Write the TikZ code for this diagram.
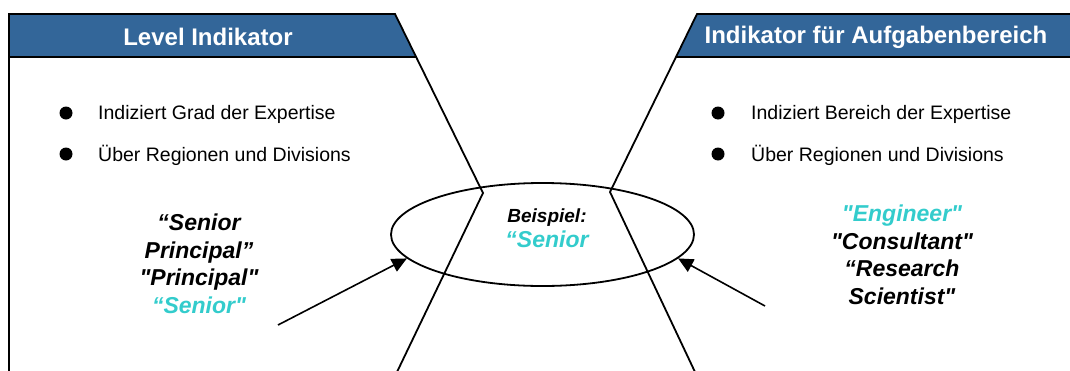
\documentclass[tikz,border=0pt]{standalone}
\usepackage{fontspec}
\setmainfont{Liberation Sans}[Ligatures=TeXOff]
\usetikzlibrary{shapes.geometric,positioning,arrows.meta}
\definecolor{hdrblue}{RGB}{51,102,153}
\definecolor{rolecyan}{RGB}{51,204,204}

\begin{document}
\begin{tikzpicture}[x=1pt,y=-1pt,
      hdr/.style={draw=none,fill=none,text=white,font=\bfseries\fontsize{24}{28}\selectfont},
      dot/.style={circle,fill=black,inner sep=0pt,minimum size=13pt},
      itemtxt/.style={anchor=west,inner sep=0pt,font=\fontsize{19.5}{23}\selectfont},
      roles/.style={align=center,font=\bfseries\itshape\fontsize{23}{27.5}\selectfont},
      edge/.style={draw,line width=1.8pt,line join=miter},
      arr/.style={draw,line width=1.6pt,-{Triangle[length=15pt,width=14pt]}}
   ]
      \useasboundingbox (0,0) rectangle (1070,370);

      % left panel
      \fill[hdrblue] (9,14) -- (395,14) -- (416,57) -- (9,57) -- cycle;
      \path[edge] (9,372) -- (9,14) -- (395,14) -- (483,193) -- (397,372);
      \path[edge] (9,57) -- (416,57);
      \node[hdr] (LH) at (208,37) {Level Indikator};

      % right panel
      \fill[hdrblue] (697,14) -- (1072,14) -- (1072,57) -- (676,57) -- cycle;
      \path[edge] (1072,14) -- (697,14) -- (610,192) -- (695,372);
      \path[edge] (676,57) -- (1072,57);
      \node[hdr] (RH) at (876,37) {Indikator für Aufgabenbereich};

      % bullets
      \node[dot] (LB1) at (66,113) {};
      \node[dot] (LB2) at (66,154) {};
      \node[itemtxt] (LT1) at (98,114) {Indiziert Grad der Expertise};
      \node[itemtxt] (LT2) at (98,155) {Über Regionen und Divisions};
      \node[dot] (RB1) at (718,113) {};
      \node[dot] (RB2) at (718,154) {};
      \node[itemtxt] (RT1) at (751,114) {Indiziert Bereich der Expertise};
      \node[itemtxt] (RT2) at (751,155) {Über Regionen und Divisions};

      % example
      \node[draw,ellipse,line width=1.8pt,minimum width=303pt,minimum height=103pt,inner sep=0pt] (ell) at (542.5,234.5) {};
      \node[align=center,font=\bfseries\itshape\fontsize{19}{25}\selectfont] (EX) at (547,228)
         {Beispiel:\\\textcolor{rolecyan}{\fontsize{23}{25}\selectfont “Senior}};

      \node[roles] (LR) at (199,264) {“Senior\\Principal”\\"Principal"\\\textcolor{rolecyan}{“Senior"}};
      \node[roles] (RR) at (902,255) {\textcolor{rolecyan}{"Engineer"}\\"Consultant"\\“Research\\Scientist"};

      \coordinate (la) at (278,325);
      \coordinate (ra) at (765,306);
      \path[arr] (la) -- (ell.190);
      \path[arr] (ra) -- (ell.350);
   \end{tikzpicture}
\end{document}
